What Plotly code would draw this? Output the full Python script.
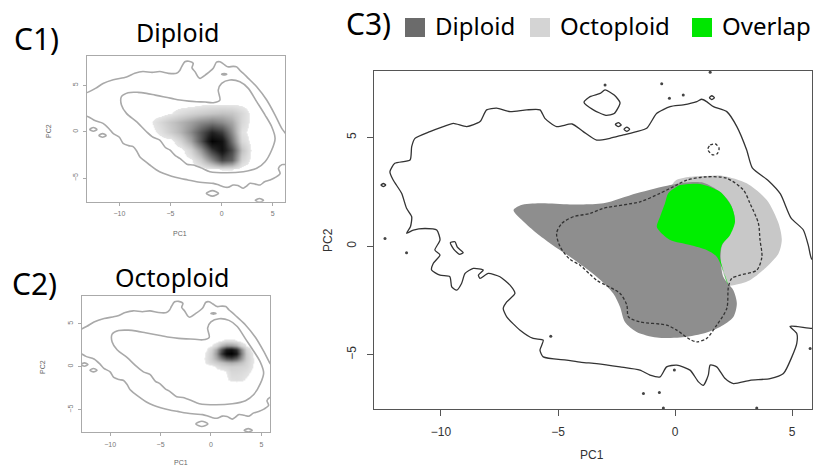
import plotly.graph_objects as go

W, H = 824, 469
FONT = "Noto Sans"
TICKFONT = "Liberation Sans"

# ---------------- density grids (PC1 columns, PC2 rows) ----------------
dip_x = [-8, -7, -6, -5, -4, -3, -2, -1, 0, 1, 2, 3, 4]
dip_y = [4, 3, 2, 1, 0, -1, -2, -3, -4, -5]
dip_density = [
    [0, 0, 0, 0, 0, 0, 0, 0, 0, 0, 0, 0, 0],
    [0, 0, 0, 0, 0, 0, .02, .03, .03, .03, .02, 0, 0],
    [0, 0, 0, .03, .08, .12, .15, .18, .20, .18, .10, 0, 0],
    [0, .02, .10, .18, .25, .32, .40, .45, .40, .30, .10, 0, 0],
    [0, 0, .06, .15, .25, .40, .60, .80, .70, .40, .06, 0, 0],
    [0, 0, 0, 0, .12, .30, .60, .98, .90, .50, .10, 0, 0],
    [0, 0, 0, 0, 0, .12, .35, .70, .90, .65, .20, 0, 0],
    [0, 0, 0, 0, 0, .02, .15, .40, .65, .55, .12, 0, 0],
    [0, 0, 0, 0, 0, 0, 0, .02, .04, .04, 0, 0, 0],
    [0, 0, 0, 0, 0, 0, 0, 0, 0, 0, 0, 0, 0],
]

oct_x = [-1.5, -1.0, -0.5, 0.0, 0.5, 1.0, 1.5, 2.0, 2.5, 3.0, 3.5, 4.0, 4.5]
oct_y = [3.5, 3.0, 2.5, 2.0, 1.5, 1.0, 0.5, 0.0, -0.5, -1.0, -1.5, -2.0, -2.5]
oct_density = [
    [0, 0, 0, 0, 0, 0, 0, 0, 0, 0, 0, 0, 0],
    [0, 0, 0, 0, 0, .03, .06, .06, .04, 0, 0, 0, 0],
    [0, 0, 0, .03, .10, .25, .35, .35, .28, .12, .03, 0, 0],
    [0, 0, .03, .12, .30, .60, .85, .90, .75, .40, .12, .03, 0],
    [0, 0, .05, .15, .35, .70, .95, 1.0, .85, .45, .15, .05, 0],
    [0, 0, .06, .15, .28, .45, .60, .65, .55, .35, .15, .06, 0],
    [0, 0, .05, .10, .15, .20, .25, .28, .25, .20, .12, .06, 0],
    [0, 0, 0, 0, .05, .10, .12, .14, .13, .12, .10, .05, 0],
    [0, 0, 0, 0, 0, 0, .04, .10, .10, .09, .07, .03, 0],
    [0, 0, 0, 0, 0, 0, .03, .08, .08, .07, .05, 0, 0],
    [0, 0, 0, 0, 0, 0, .02, .06, .07, .06, .02, 0, 0],
    [0, 0, 0, 0, 0, 0, 0, 0, 0, 0, 0, 0, 0],
    [0, 0, 0, 0, 0, 0, 0, 0, 0, 0, 0, 0, 0],
]

# ---------------- all-sample contour levels used in C1 / C2 ----------------
all_outer_x = [-13.8, -13.0, -12.3, -11.6, -10.6, -9.3, -8.5, -7.7, -6.8, -6.05, -5.2, -4.41, -4.1, -3.92,
               -3.6, -3.2, -2.78, -2.9, -2.61, -2.3, -2.12, -1.5, -0.82, -0.5, -0.17, 0.2, 0.6, 1.13, 1.47,
               1.8, 2.12, 2.61, 3.43, 4.41, 5.23, 5.88, 6.6, 6.6, 5.9, 5.56, 5.72, 5.3, 4.74, 4.2, 3.76,
               3.3, 2.78, 2.4, 2.12, 1.6, 1.14, 0.6, 0.16, -0.4, -0.82, -1.6, -2.45, -3.3, -4.09, -4.9,
               -5.72, -6.4, -7.03, -7.6, -8.01, -8.3, -8.66, -9.1, -9.64, -10.0, -10.62, -11.0, -11.6,
               -12.4, -13.0, -13.8]
all_outer_y = [4.0, 4.3, 4.7, 5.2, 5.6, 5.9, 6.3, 6.5, 6.4, 6.5, 6.3, 6.3, 6.6, 7.0,
               7.55, 7.6, 7.37, 6.9, 6.48, 5.9, 5.76, 6.2, 6.84, 7.5, 7.55, 7.3, 7.0, 7.05, 7.0,
               6.6, 6.3, 5.76, 4.86, 3.42, 1.8, 0.36, -0.8, -3.5, -3.55, -3.95, -4.5, -4.9, -5.21, -5.4, -5.75,
               -5.65, -5.57, -5.9, -6.1, -5.8, -5.75, -6.0, -5.93, -5.7, -5.57, -5.5, -5.39, -5.2, -5.03, -4.8,
               -4.49, -4.1, -3.59, -3.1, -2.69, -2.1, -1.61, -1.5, -1.25, -0.6, -0.18, 0.3, 0.9,
               1.2, 1.6, 1.8]

all_inner_x = [-9.8, -9.15, -8.2, -7.35, -6.5, -5.72, -4.9, -4.09, -3.2, -2.45, -1.6, -0.82, -0.17, -0.33,
               0.0, 0.81, 1.79, 2.61, 3.43, 4.25, 4.9, 5.23, 4.9, 4.25, 3.43, 2.12, 0.49, -1.15, -2.0,
               -2.78, -3.4, -4.09, -4.5, -5.07, -5.5, -6.05, -6.7, -7.35, -8.33, -9.31, -9.8, -9.8]
all_inner_y = [3.78, 4.21, 4.25, 4.14, 3.95, 3.78, 3.6, 3.42, 3.3, 3.24, 3.2, 3.13, 3.42, 4.5,
               5.22, 5.58, 5.39, 4.68, 3.24, 1.8, 0.54, -0.72, -1.97, -3.24, -3.95, -4.31, -4.43, -4.31, -3.9,
               -3.59, -3.5, -2.87, -2.6, -1.97, -1.7, -0.9, -0.6, 0.0, 1.08, 1.98, 2.88, 3.78]

# small closed pieces of the outer level (None separates pieces)
all_islands_x = [-12.9, -12.55, -12.2, -12.55, -12.9, None,
                 -12.0, -11.65, -11.3, -11.65, -12.0, None,
                 -1.5, -0.9, -0.3, -0.9, -1.5, None,
                 3.3, 3.7, 4.1, 3.7, 3.3, None,
                 0.0, 0.25, 0.5, 0.25, 0.0]
all_islands_y = [0.25, 0.45, 0.25, 0.05, 0.25, None,
                 -0.4, -0.2, -0.4, -0.6, -0.4, None,
                 -6.65, -6.35, -6.65, -6.95, -6.65, None,
                 -7.4, -7.2, -7.4, -7.6, -7.4, None,
                 6.2, 6.28, 6.2, 6.12, 6.2]

# ---------------- C3 outlines and regions ----------------
c3_outer_x = [-10.04, -10.18, -10.68, -11.18, -11.47, -11.3, -11.25, -11.47, -11.68, -12.04, -12.18, -11.97,
              -11.32, -11.25, -11.11, -10.47, -9.9, -9.47, -8.9, -8.33, -8.05, -7.62, -7.05, -6.34, -5.77,
              -5.56, -5.06, -4.4, -3.92, -3.35, -2.78, -2.21, -1.64, -1.21, -0.78, -0.21, 0.35, 0.93, 1.14,
              1.35, 1.64, 2.21, 2.64, 3.06, 3.3, 4.0, 4.5, 4.95, 5.48, 5.7, 5.84, 6.3, 6.3, 5.84, 4.91,
              5.2, 5.2, 4.99, 4.63, 4.06, 3.2, 2.49, 2.14, 1.78, 1.5, 1.42, 1.21, 1.0, 0.64, 0.07, -0.36,
              -0.64, -1.07, -1.5, -2.35, -3.35, -4.0, -4.63, -5.63, -5.77, -5.63, -6.06, -6.62, -7.19,
              -7.34, -7.19, -6.84, -7.05, -7.48, -7.98, -8.33, -8.4, -8.19, -8.62, -8.97, -9.12, -9.33,
              -9.54, -9.62, -10.04, -10.4, -10.33, -10.04, -10.26, -10.04]
c3_outer_y = [0.28, 0.74, 0.81, 0.74, 0.59, 0.9, 1.35, 1.74, 2.43, 3.04, 3.42, 3.81,
              3.96, 4.58, 4.96, 5.27, 5.5, 5.65, 5.5, 5.73, 6.27, 6.35, 6.19, 6.27, 6.27,
              5.88, 5.5, 5.62, 5.27, 4.88, 4.96, 5.12, 5.27, 5.42, 6.11, 6.42, 6.5, 6.65, 6.76,
              6.65, 6.42, 6.19, 5.5, 4.42, 3.6, 3.0, 2.4, 1.3, 0.74, 0.0, -0.6, -0.8, -3.75, -3.79, -3.69,
              -4.02, -4.48, -5.1, -5.87, -6.1, -6.18, -6.33, -6.1, -5.56, -5.48, -5.94, -6.41, -6.25, -5.71, -5.48, -5.56,
              -6.02, -5.94, -5.71, -5.56, -5.41, -5.35, -5.25, -5.1, -4.79, -4.33, -4.25, -3.87, -3.26,
              -2.87, -2.57, -2.18, -1.8, -1.41, -1.26, -1.49, -1.34, -1.1, -1.03, -1.26, -1.72, -2.03,
              -1.88, -1.41, -1.34, -1.1, -0.8, -0.41, -0.18, 0.28]

c3_loops_x = [-2.99, -2.6, -2.35, -2.6, -2.95, -3.49, -3.89, -3.63, -3.2, -2.99, None,
              -2.55, -2.42, -2.3, -2.42, -2.55, None,
              -2.18, -2.06, -1.94, -2.06, -2.18, None,
              1.47, 1.57, 1.68, 1.57, 1.47, None,
              -9.6, -9.4, -9.3, -9.05, -9.2, -9.45, -9.6, None,
              -12.56, -12.46, -12.36, -12.46, -12.56]
c3_loops_y = [7.19, 6.95, 6.6, 6.1, 6.02, 6.27, 6.62, 6.88, 7.03, 7.19, None,
              5.6, 5.68, 5.58, 5.5, 5.6, None,
              5.38, 5.48, 5.38, 5.28, 5.38, None,
              6.83, 6.92, 6.83, 6.74, 6.83, None,
              0.15, 0.2, -0.05, -0.3, -0.38, -0.15, 0.15, None,
              2.81, 2.88, 2.81, 2.74, 2.81]

c3_dots_x = [-12.39, -11.47, -2.99, -0.57, -0.24, 0.35, -5.31, -0.03, -1.35, -0.67, 1.5, -0.5, 3.49, 5.77]
c3_dots_y = [0.35, -0.31, 7.42, 7.47, 6.8, 6.96, -4.15, -5.71, -6.79, -6.74, 8.0, -7.45, -7.45, -4.71]

diploid_x = [-6.9, -6.6, -5.77, -4.49, -3.06, -1.64, -0.21, 0.35, 1.21, 1.92, 2.35, 2.56, 2.35, 2.0,
             1.95, 2.06, 2.28, 2.49, 2.64, 2.49, 1.92, 1.21, 0.21, -0.78, -1.64, -2.14, -2.35, -2.64,
             -3.35, -4.49, -5.3, -5.91, -6.5, -6.9]
diploid_y = [1.65, 1.88, 1.97, 1.92, 1.97, 2.43, 2.81, 2.92, 2.92, 2.5, 1.97, 1.2, 0.59, 0.0,
             -0.65, -1.41, -1.75, -2.03, -2.64, -3.26, -3.72, -4.02, -4.21, -4.21, -3.95, -3.49, -2.8, -2.18,
             -1.41, -0.49, 0.1, 0.59, 1.15, 1.65]

octoploid_x = [-0.78, -0.64, -0.43, -0.29, 0.0, 0.64, 1.35, 2.06, 3.06, 3.92, 4.42, 4.56, 4.42, 3.92,
               3.2, 2.49, 2.28, 1.78, 1.35, 0.64, -0.21, -0.64, -0.78]
octoploid_y = [0.89, 1.35, 1.97, 2.43, 3.0, 3.19, 3.23, 3.23, 2.89, 2.12, 1.05, 0.28, -0.34, -0.95,
               -1.57, -1.8, -1.8, -0.49, -0.18, 0.05, 0.28, 0.66, 0.89]

overlap_x = [-0.78, -0.64, -0.43, -0.29, 0.07, 0.21, 1.07, 1.92, 2.42, 2.56, 2.35, 2.0, 1.92, 2.06,
             2.21, 2.28, 1.78, 1.35, 0.64, -0.21, -0.64, -0.78]
overlap_y = [0.89, 1.35, 1.97, 2.43, 2.73, 2.81, 2.86, 2.5, 1.81, 1.12, 0.51, 0.05, -0.49, -1.11,
             -1.64, -1.8, -0.49, -0.18, 0.05, 0.28, 0.66, 0.89]

dashed_x = [-3.63, -4.35, -4.84, -5.06, -4.91, -4.5, -4.06, -3.35, -2.35, -2.06, -1.99, -1.5, -0.36, 0.07,
            0.64, 0.93, 1.35, 1.78, 2.21, 2.28, 2.42, 2.78, 3.49, 3.71, 3.63, 3.56, 3.2, 2.92, 2.21,
            1.35, 0.5, 0.07, -0.64, -1.5, -3.06, -3.63]
dashed_y = [1.5, 1.35, 1.04, 0.59, -0.03, -0.6, -0.88, -1.57, -2.18, -2.72, -3.26, -3.49, -3.64, -3.87,
            -4.3, -4.41, -4.25, -3.64, -2.87, -1.88, -1.49, -1.34, -1.11, -0.49, 0.28, 1.05, 1.97, 2.58, 3.12,
            3.19, 3.04, 2.81, 2.43, 2.04, 1.74, 1.5]

dashed_ring_x = [1.4, 1.5, 1.72, 1.88, 1.8, 1.6, 1.4]
dashed_ring_y = [4.45, 4.65, 4.7, 4.5, 4.25, 4.2, 4.45]

ticks_x = [-10, -5, 0, 5]
ticks_y = [-5, 0, 5]

legend_labels = ["Diploid", "Octoploid", "Overlap"]
legend_colors = ["#6b6b6b", "#d4d4d4", "#00e600"]
DIP_FILL, OCT_FILL, OVL_FILL = "#8e8e8e", "#c8c8c8", "#00ee00"

density_scale = [[0.0, "#ffffff"], [0.034, "#ffffff"], [0.036, "#e6e6e6"], [0.2, "#c2c2c2"],
                 [0.5, "#707070"], [0.8, "#222222"], [1.0, "#000000"]]

fig = go.Figure()


def px_dom(a, b, total):
    return [a / total, b / total]


def py_dom(top, bottom):
    return [1 - bottom / H, 1 - top / H]


# ---- C1 ----
fig.add_trace(go.Heatmap(x=dip_x, y=dip_y, z=dip_density, zmin=0, zmax=1, zsmooth="best",
                         colorscale=density_scale, showscale=False, hoverinfo="skip",
                         xaxis="x", yaxis="y"))
# ---- C2 ----
fig.add_trace(go.Heatmap(x=oct_x, y=oct_y, z=oct_density, zmin=0, zmax=1, zsmooth="best",
                         colorscale=density_scale, showscale=False, hoverinfo="skip",
                         xaxis="x2", yaxis="y2"))

for xa, ya in (("x", "y"), ("x2", "y2")):
    for lx, ly in ((all_outer_x, all_outer_y), (all_inner_x, all_inner_y), (all_islands_x, all_islands_y)):
        fig.add_trace(go.Scatter(x=lx, y=ly, mode="lines", xaxis=xa, yaxis=ya,
                                 line=dict(color="#a9a9a9", width=1.6, shape="spline", smoothing=0.8),
                                 showlegend=False, hoverinfo="skip"))

# ---- C3 ----
fig.add_trace(go.Scatter(x=octoploid_x, y=octoploid_y, mode="lines", fill="toself", fillcolor=OCT_FILL,
                         line=dict(width=0, color=OCT_FILL, shape="spline", smoothing=0.8),
                         xaxis="x3", yaxis="y3", showlegend=False, hoverinfo="skip"))
fig.add_trace(go.Scatter(x=diploid_x, y=diploid_y, mode="lines", fill="toself", fillcolor=DIP_FILL,
                         line=dict(width=0, color=DIP_FILL, shape="spline", smoothing=0.8),
                         xaxis="x3", yaxis="y3", showlegend=False, hoverinfo="skip"))
fig.add_trace(go.Scatter(x=overlap_x, y=overlap_y, mode="lines", fill="toself", fillcolor=OVL_FILL,
                         line=dict(width=0, color=OVL_FILL, shape="spline", smoothing=0.8),
                         xaxis="x3", yaxis="y3", showlegend=False, hoverinfo="skip"))
for lx, ly in ((dashed_x, dashed_y), (dashed_ring_x, dashed_ring_y)):
    fig.add_trace(go.Scatter(x=lx, y=ly, mode="lines", xaxis="x3", yaxis="y3",
                             line=dict(color="#333333", width=1.3, dash="3px,2px", shape="spline", smoothing=0.8),
                             showlegend=False, hoverinfo="skip"))
for lx, ly in ((c3_outer_x, c3_outer_y), (c3_loops_x, c3_loops_y)):
    fig.add_trace(go.Scatter(x=lx, y=ly, mode="lines", xaxis="x3", yaxis="y3",
                             line=dict(color="#333333", width=1.3, shape="spline", smoothing=0.6),
                             showlegend=False, hoverinfo="skip"))
fig.add_trace(go.Scatter(x=c3_dots_x, y=c3_dots_y, mode="markers", xaxis="x3", yaxis="y3",
                         marker=dict(color="#444444", size=3), showlegend=False, hoverinfo="skip"))


def axis_style(rng, dom, anchor, tickvals, size, ticklen, color, lcolor, angle=None, standoff=2):
    d = dict(range=rng, domain=dom, anchor=anchor, tickvals=tickvals, ticks="outside",
             ticklen=ticklen, tickcolor=lcolor, tickwidth=1, showline=True, linecolor=lcolor,
             linewidth=1, mirror=True, showgrid=False, zeroline=False,
             tickfont=dict(family=TICKFONT, size=size, color=color), ticklabelstandoff=standoff)
    if angle is not None:
        d["tickangle"] = angle
    return d


fig.update_layout(
    width=W, height=H, margin=dict(l=0, r=0, t=0, b=0),
    paper_bgcolor="white", plot_bgcolor="white", showlegend=False,
    xaxis=axis_style([-13.2, 6.2], px_dom(86.7, 285, W), "y", ticks_x, 7, 3, "#777777", "#aaaaaa"),
    yaxis=axis_style([-7.55, 8.17], py_dom(56, 201.7), "x", ticks_y, 7, 3, "#777777", "#aaaaaa", -90),
    xaxis2=axis_style([-12.82, 5.86], px_dom(81.7, 270, W), "y2", ticks_x, 7, 3, "#777777", "#aaaaaa"),
    yaxis2=axis_style([-7.63, 8.26], py_dom(295.7, 432.3), "x2", ticks_y, 7, 3, "#777777", "#aaaaaa", -90),
    xaxis3=axis_style([-12.86, 5.85], px_dom(374, 812, W), "y3", ticks_x, 12, 6, "#333333", "#555555", None, 6),
    yaxis3=axis_style([-7.5, 8.06], py_dom(71, 409), "x3", ticks_y, 12, 6, "#333333", "#555555", -90, 6),
)


def note(text, x, y, size, color="black", family=FONT, anchor="center", angle=0):
    fig.add_annotation(text=text, x=x / W, y=1 - y / H, xref="paper", yref="paper",
                       xanchor=anchor, yanchor="middle", showarrow=False, textangle=angle,
                       font=dict(family=family, size=size, color=color))


note("C1)", 12, 38, 30, anchor="left")
note("Diploid", 177, 32, 25)
note("C2)", 10, 283, 30, anchor="left")
note("Octoploid", 172, 277, 25)
note("C3)", 344, 24, 30, anchor="left")

note("PC1", 180, 234, 7, "#666666", TICKFONT)
note("PC2", 48, 131, 7, "#666666", TICKFONT, angle=-90)
note("PC1", 181, 462, 7, "#666666", TICKFONT)
note("PC2", 42, 367, 7, "#666666", TICKFONT, angle=-90)
note("PC1", 592, 455, 12, "#333333", TICKFONT)
note("PC2", 328, 240, 12, "#333333", TICKFONT, angle=-90)

legend_left = [405, 530, 692]
for lab, col, left in zip(legend_labels, legend_colors, legend_left):
    fig.add_shape(type="rect", xref="paper", yref="paper", x0=left / W, x1=(left + 20) / W,
                  y0=1 - 37 / H, y1=1 - 18 / H, fillcolor=col, line=dict(width=0))
    note(lab, left + 28, 26, 24, anchor="left")

fig.write_html("out.html")
